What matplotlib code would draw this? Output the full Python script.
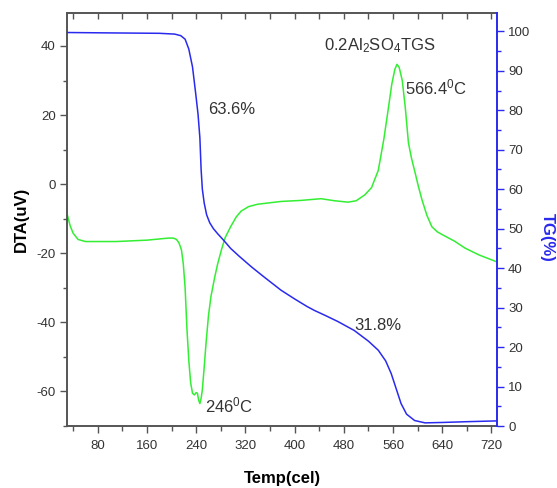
import matplotlib
matplotlib.use('Agg')
import matplotlib.pyplot as plt
from matplotlib.ticker import MultipleLocator

plt.rcParams['font.family'] = ['Liberation Sans', 'DejaVu Sans']
plt.rcParams['mathtext.fontset'] = 'custom'
plt.rcParams['mathtext.rm'] = 'Liberation Sans'
plt.rcParams['axes.unicode_minus'] = False

# TG curve (right axis, %)
tg_temp = [30, 100, 180, 205, 215, 222, 228, 234, 239, 243, 246, 248, 250, 253,
           257, 262, 268, 275, 285, 296, 310, 330, 350, 378, 400, 420, 432, 450,
           470, 497, 520, 536, 548, 557, 565, 573, 582, 595, 612, 640, 680, 729]
tg_val = [99.7, 99.6, 99.5, 99.3, 98.9, 98.0, 95.5, 91.0, 84.5, 79.0, 73.0, 65.0,
          60.0, 56.5, 53.5, 51.5, 50.0, 48.7, 47.0, 45.0, 43.0, 40.3, 37.8, 34.4,
          32.2, 30.3, 29.3, 28.0, 26.5, 24.2, 21.5, 19.2, 16.5, 13.3, 9.5, 5.7,
          3.0, 1.4, 0.8, 0.9, 1.1, 1.3]

# DTA curve (left axis, uV)
dta_temp = [30, 35, 40, 48, 60, 110, 160, 195, 203, 208, 212, 216, 219, 222, 225,
            228, 231, 234, 237, 240, 242, 244, 246, 248, 250, 253, 256, 260, 264,
            270, 275, 281, 287, 296, 305, 313, 325, 340, 378, 410, 443, 465, 487,
            500, 514, 525, 536, 545, 552, 558, 563, 566.4, 570, 575, 580, 585,
            590, 596, 601, 607, 615, 623, 632, 640, 660, 677, 700, 729]
dta_val = [-8.5, -12.0, -14.2, -16.0, -16.6, -16.6, -16.2, -15.6, -15.6, -16.0,
           -17.0, -19.0, -23.0, -30.0, -42.0, -51.0, -57.5, -60.5, -61.0, -60.3,
           -60.5, -62.5, -63.5, -62.0, -59.5, -53.0, -46.0, -38.0, -32.5, -27.0,
           -23.0, -19.0, -15.5, -12.3, -9.5, -7.8, -6.5, -5.8, -5.0, -4.7, -4.2,
           -4.8, -5.2, -4.8, -3.1, -1.0, 4.0, 13.0, 21.5, 29.0, 33.3, 34.7, 33.8,
           30.0, 22.0, 12.0, 7.5, 3.2, -0.5, -4.5, -9.0, -12.3, -13.8, -14.6,
           -16.5, -18.5, -20.5, -22.5]

green = '#33ee33'
blue = '#2a2aee'
gray = '#555555'
txt = '#333333'

fig = plt.figure(figsize=(5.57, 4.88), dpi=100)
ax = fig.add_axes([0.1203, 0.127, 0.772, 0.846])
ax2 = ax.twinx()

ax.plot(dta_temp, dta_val, color=green, lw=1.1)
ax2.plot(tg_temp, tg_val, color=blue, lw=1.1)

ax.set_xlim(30, 729)
ax.set_ylim(-70, 49.5)
ax2.set_ylim(0, 104.6)

ax.xaxis.set_major_locator(MultipleLocator(80))
ax.xaxis.set_minor_locator(MultipleLocator(40))
ax.yaxis.set_major_locator(MultipleLocator(20))
ax.yaxis.set_minor_locator(MultipleLocator(10))
ax2.yaxis.set_major_locator(MultipleLocator(10))
ax2.yaxis.set_minor_locator(MultipleLocator(5))

for s in ['left', 'top', 'bottom']:
    ax.spines[s].set_color(gray)
    ax.spines[s].set_linewidth(1.4)
ax.spines['right'].set_visible(False)
for s in ['left', 'top', 'bottom']:
    ax2.spines[s].set_visible(False)
ax2.spines['right'].set_color(blue)
ax2.spines['right'].set_linewidth(1.4)

ax.tick_params(axis='x', which='both', direction='out', top=True, labelsize=9.5,
               color=gray, labelcolor=txt, pad=5)
ax.tick_params(axis='x', which='major', length=5, width=1)
ax.tick_params(axis='x', which='minor', length=3.5, width=1)
ax.tick_params(axis='y', which='both', direction='out', labelsize=9.5,
               color=gray, labelcolor=txt, pad=3)
ax.tick_params(axis='y', which='major', length=5, width=1)
ax.tick_params(axis='y', which='minor', length=3, width=1)
# top ticks point inward
for t in ax.xaxis.get_major_ticks() + ax.xaxis.get_minor_ticks():
    t.tick2line.set_marker(3)
    t.tick2line.set_markersize(4)

ax2.tick_params(axis='y', which='both', direction='out', labelsize=9.5,
                color=blue, labelcolor=txt, pad=3)
ax2.tick_params(axis='y', which='major', length=5, width=1)
ax2.tick_params(axis='y', which='minor', length=3, width=1)

ax.set_xlabel('Temp(cel)', fontsize=12, fontweight='bold', va='center')
ax.xaxis.set_label_coords(0.5, -0.128)
ax.set_ylabel('DTA(uV)', fontsize=12, fontweight='bold', va='center')
ax.yaxis.set_label_coords(-0.107, 0.5)
ax2.set_ylabel('TG(%)', fontsize=12, fontweight='bold', color=blue,
               rotation=-90, va='center', ha='center')
ax2.yaxis.set_label_coords(1.116, 0.458)

ax.text(260, 21.5, '63.6%', fontsize=12, color=txt, va='center')
ax.text(497, -41, '31.8%', fontsize=12, color=txt, va='center')
ax.text(255, -64, r'246$\mathregular{^0}$C', fontsize=12, color=txt, va='center')
ax.text(580, 28, r'566.4$\mathregular{^0}$C', fontsize=12, color=txt, va='center')
ax.text(448, 40, r'0.2Al$\mathregular{_2}$SO$\mathregular{_4}$TGS', fontsize=12,
        color=txt, va='center')

fig.savefig('out.png', dpi=100)
